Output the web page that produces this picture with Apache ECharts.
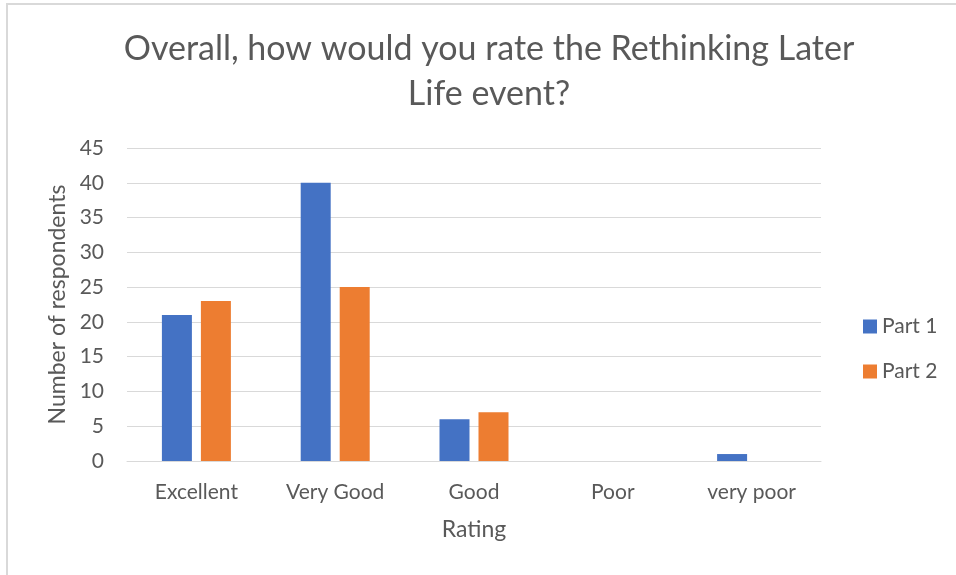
<!DOCTYPE html>
<html>
<head>
<meta charset="utf-8">
<script src="https://cdn.jsdelivr.net/npm/echarts@6/dist/echarts.min.js"></script>
<style>
  html, body {
    margin: 0;
    padding: 0;
    background: #fff;
  }
  #frame {
    position: absolute;
    left: 6px;
    top: 3px;
    width: 950px;
    height: 572px;
    border-left: 2px solid #d9d9d9;
    border-top: 2px solid #d9d9d9;
    box-sizing: border-box;
  }
  #main {
    position: absolute;
    left: 0;
    top: 0;
    width: 956px;
    height: 575px;
  }
</style>
</head>
<body>
<div id="frame"></div>
<div id="main"></div>
<script>
  var categories = ["Excellent", "Very Good", "Good", "Poor", "very poor"];
  var part1 = [21, 40, 6, 0, 1];
  var part2 = [23, 25, 7, 0, 0];
  var yTicks = [0, 5, 10, 15, 20, 25, 30, 35, 40, 45];

  var textColor = "#595959";
  var font = "Lato, 'Open Sans', sans-serif";

  var myChart = echarts.init(document.getElementById("main"), null, { renderer: "canvas" });

  var option = {
    backgroundColor: "transparent",
    animation: false,
    textStyle: { fontFamily: font, color: textColor },
    title: {
      text: "Overall, how would you rate the Rethinking Later\nLife event?",
      left: 484,
      top: 22,
      textAlign: "center",
      textStyle: {
        fontFamily: font,
        fontSize: 34,
        fontWeight: "normal",
        color: textColor,
        lineHeight: 45,
        align: "center"
      }
    },
    legend: {
      orient: "vertical",
      left: 858,
      top: 311,
      itemWidth: 14,
      itemHeight: 14,
      itemGap: 24,
      icon: "rect",
      textStyle: { fontFamily: font, fontSize: 21, color: textColor },
      data: ["Part 1", "Part 2"]
    },
    grid: {
      left: 127,
      right: 135,
      top: 148,
      bottom: 114,
      containLabel: false
    },
    xAxis: {
      type: "category",
      data: categories,
      name: "Rating",
      nameLocation: "middle",
      nameGap: 57,
      nameTextStyle: { fontFamily: font, fontSize: 23, color: textColor },
      axisLine: { lineStyle: { color: "#d9d9d9", width: 1 } },
      axisTick: { show: false },
      axisLabel: { fontFamily: font, fontSize: 21, color: textColor, margin: 21 }
    },
    yAxis: {
      type: "value",
      min: yTicks[0],
      max: yTicks[yTicks.length - 1],
      interval: 5,
      name: "Number of respondents",
      nameLocation: "middle",
      nameGap: 56,
      nameRotate: 90,
      nameTextStyle: { fontFamily: font, fontSize: 23, color: textColor },
      axisLine: { show: false },
      axisTick: { show: false },
      splitLine: { lineStyle: { color: "#d9d9d9", width: 1 } },
      axisLabel: { fontFamily: font, fontSize: 21, color: textColor, margin: 23 }
    },
    series: [
      {
        name: "Part 1",
        type: "bar",
        data: part1,
        barWidth: 30,
        barGap: "30%",
        itemStyle: { color: "#4472C4" }
      },
      {
        name: "Part 2",
        type: "bar",
        data: part2,
        barWidth: 30,
        barGap: "30%",
        itemStyle: { color: "#ED7D31" }
      }
    ]
  };

  option && myChart.setOption(option);
</script>
</body>
</html>
